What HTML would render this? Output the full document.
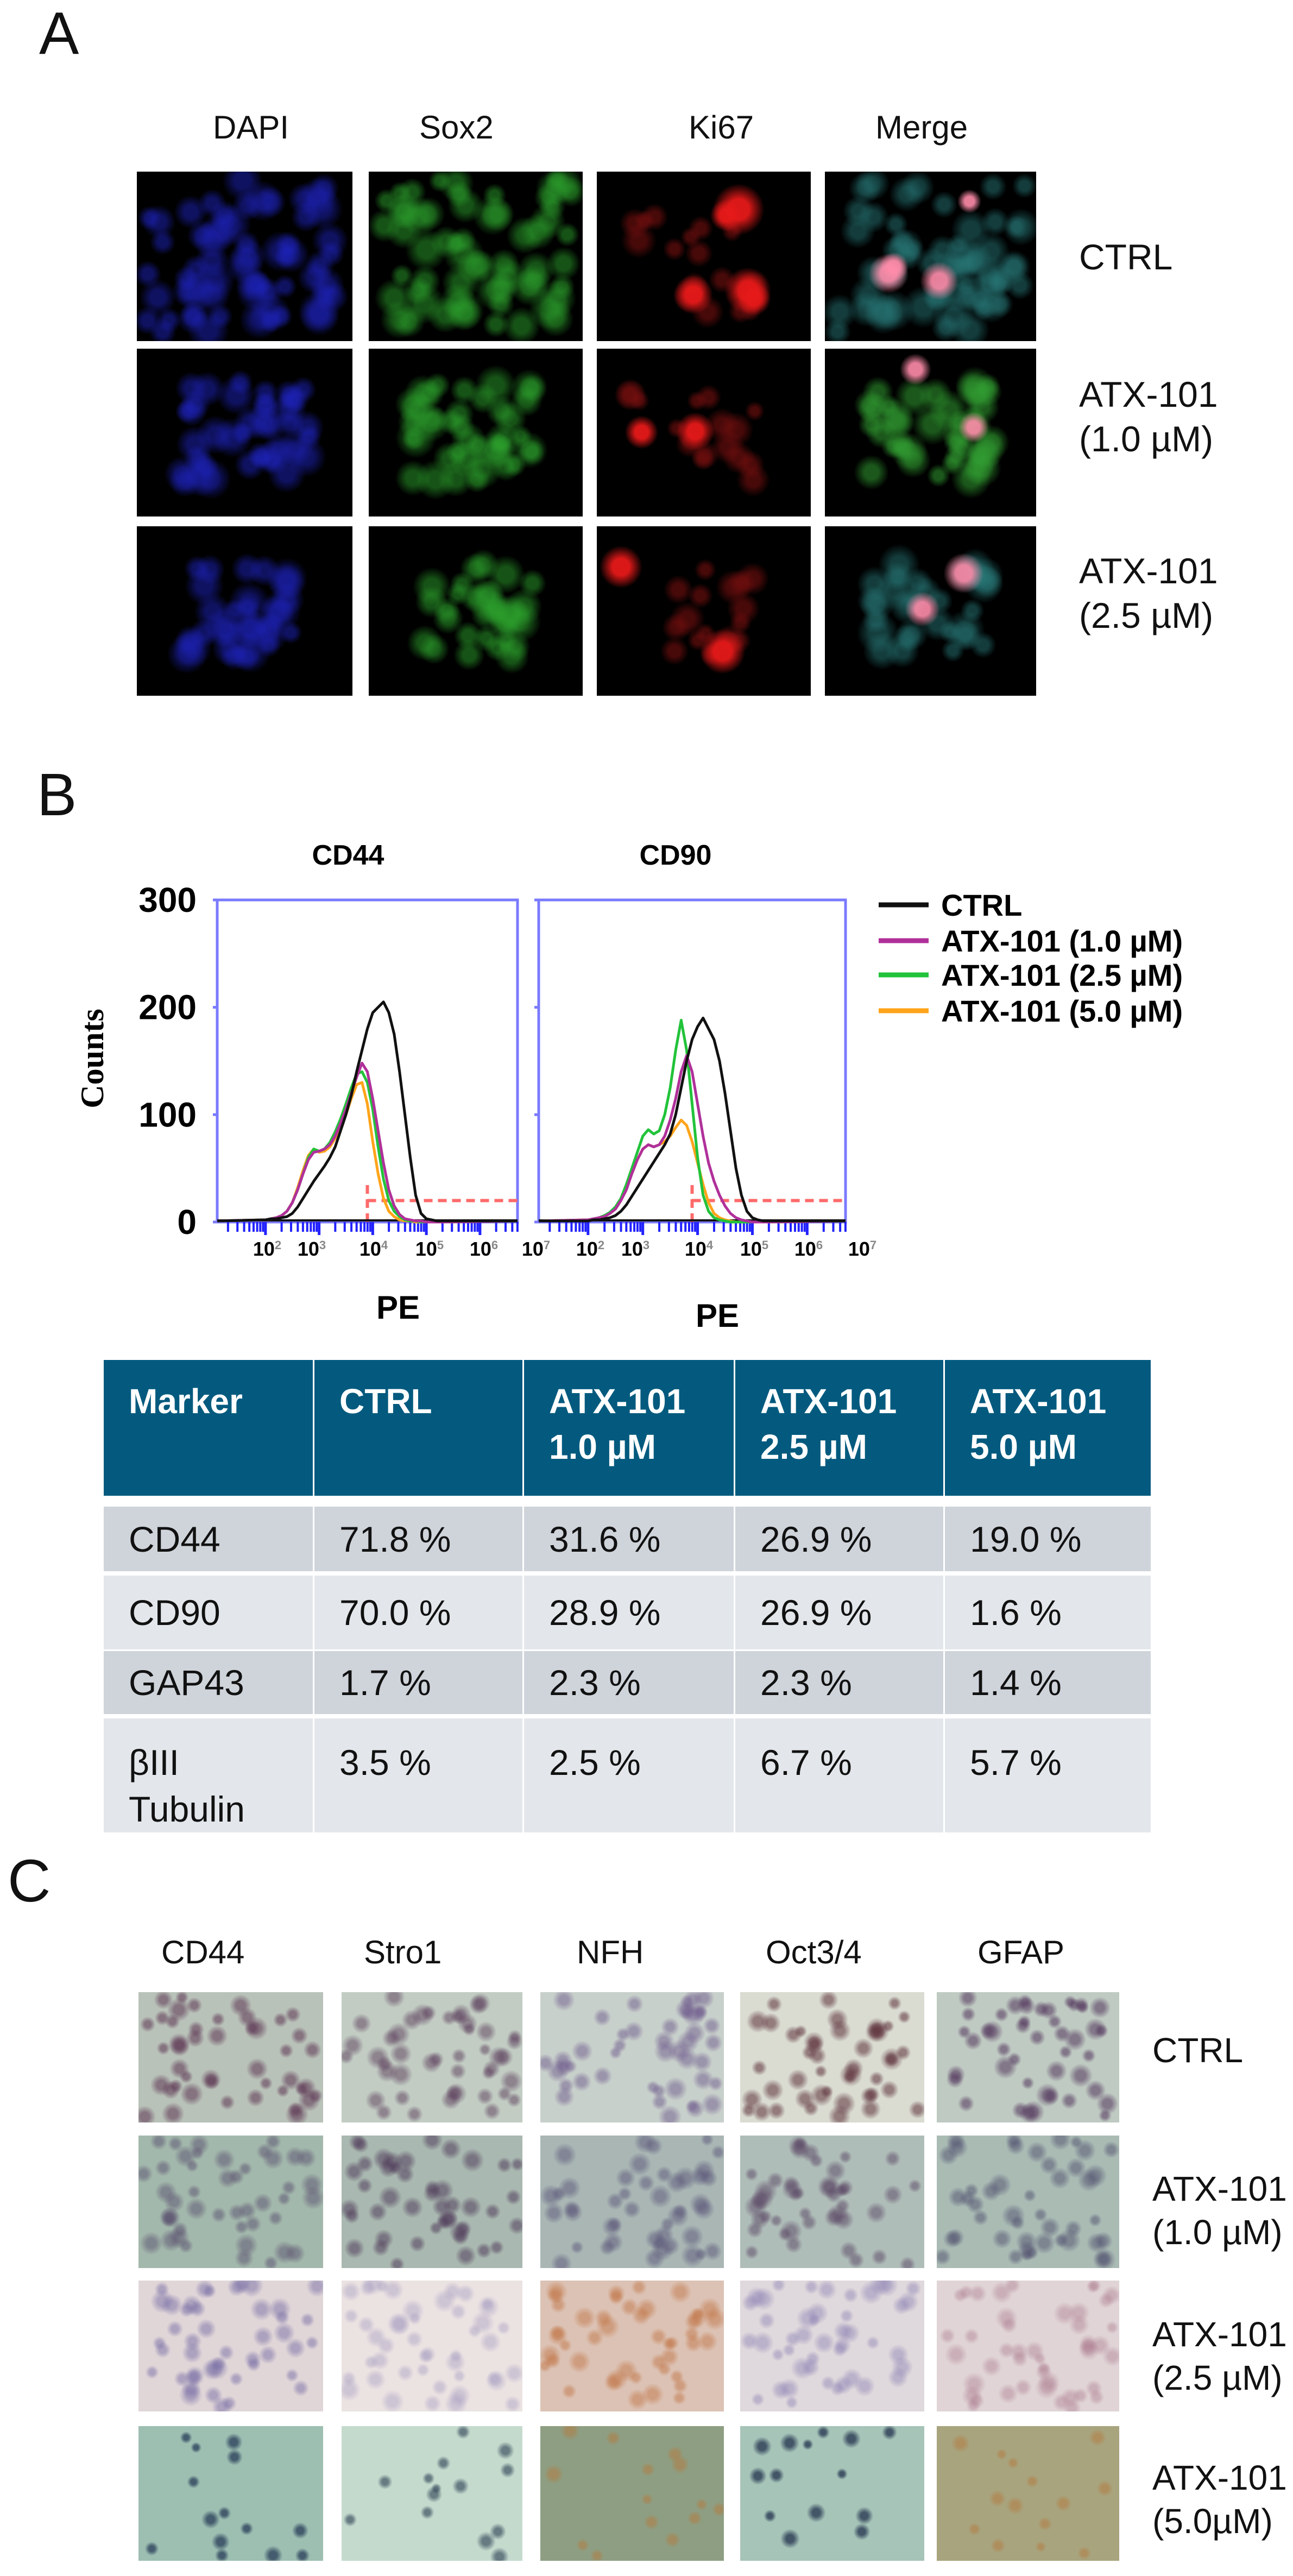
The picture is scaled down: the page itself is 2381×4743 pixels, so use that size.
<!DOCTYPE html>
<html><head><meta charset="utf-8">
<style>
html,body{margin:0;padding:0;background:#fff;}
body{width:2381px;height:4743px;position:relative;overflow:hidden;font-family:"Liberation Sans",Arial,sans-serif;}
.abs{position:absolute;}
.lbl{position:absolute;font-size:60px;color:#111;white-space:nowrap;font-family:"Liberation Sans Narrow","Liberation Sans",Arial,sans-serif;}
.panel{position:absolute;font-size:110px;color:#111;}
.img{position:absolute;overflow:hidden;}
.cell{position:absolute;box-sizing:border-box;padding-left:46px;white-space:nowrap;font-family:"Liberation Sans Narrow","Liberation Sans",Arial,sans-serif;}
</style></head>
<body>
<div class="panel" style="left:72px;top:-2px;">A</div>
<div class="panel" style="left:68px;top:1400px;">B</div>
<div class="panel" style="left:14px;top:3400px;">C</div>

<!-- Panel A -->
<div class="lbl" style="left:392px;top:200px;">DAPI</div>
<div class="lbl" style="left:772px;top:200px;">Sox2</div>
<div class="lbl" style="left:1268px;top:200px;">Ki67</div>
<div class="lbl" style="left:1612px;top:200px;">Merge</div>
<div class="lbl" style="left:1987px;top:435px;font-size:66px;">CTRL</div>
<div class="lbl" style="left:1987px;top:685px;font-size:66px;line-height:82px;">ATX-101<br>(1.0 µM)</div>
<div class="lbl" style="left:1987px;top:1010px;font-size:66px;line-height:82px;">ATX-101<br>(2.5 µM)</div>
<div id="gridA"></div>

<!-- Panel B chart -->
<svg id="chart" class="abs" style="left:0;top:0" width="2381" height="2500" viewBox="0 0 2381 2500"></svg>

<!-- Table -->
<div id="table" class="abs" style="left:0;top:0;"></div>

<!-- Panel C -->
<div class="lbl" style="left:297px;top:3560px;">CD44</div>
<div class="lbl" style="left:670px;top:3560px;">Stro1</div>
<div class="lbl" style="left:1062px;top:3560px;">NFH</div>
<div class="lbl" style="left:1410px;top:3560px;">Oct3/4</div>
<div class="lbl" style="left:1800px;top:3560px;">GFAP</div>
<div class="lbl" style="left:2122px;top:3738px;font-size:64px;">CTRL</div>
<div class="lbl" style="left:2122px;top:3990px;font-size:64px;line-height:80px;">ATX-101<br>(1.0 µM)</div>
<div class="lbl" style="left:2122px;top:4258px;font-size:64px;line-height:80px;">ATX-101<br>(2.5 µM)</div>
<div class="lbl" style="left:2122px;top:4522px;font-size:64px;line-height:80px;">ATX-101<br>(5.0µM)</div>
<div id="gridC"></div>

<script>
// ---------- Flow histogram data (log10 PE bins from 2.0 step 0.1) ----------
const binStart = 2.0, binStep = 0.1;
const cd44Ctrl = [2,3,3,4,5,8,14,22,30,38,45,52,60,70,85,100,118,140,160,180,195,200,205,195,175,140,100,60,25,8,3,2,1,1];
const cd44Atx1 = [2,3,4,6,10,18,30,45,58,65,66,68,72,80,92,105,120,135,148,140,115,85,55,30,15,7,3,2,1,1,0,0,0,0];
const cd44Atx25 = [2,3,4,6,10,18,30,45,60,68,66,68,74,84,96,110,125,138,140,130,105,70,40,20,10,5,2,1,1,0,0,0,0,0];
const cd44Atx5 = [2,3,4,6,10,18,32,48,62,68,65,66,70,78,88,100,115,128,130,110,75,45,22,10,5,2,1,1,0,0,0,0,0,0];
const cd90Ctrl = [1,2,2,3,4,6,10,16,24,32,40,48,56,64,72,82,100,125,150,170,182,190,180,170,150,120,85,50,25,10,4,2,1,1];
const cd90Atx1 = [2,3,4,5,8,12,20,30,45,58,68,72,70,72,80,95,115,140,155,140,110,80,55,38,25,15,8,4,2,1,0,0,0,0];
const cd90Atx25 = [2,3,4,6,9,14,22,35,50,65,80,86,82,85,100,125,160,188,160,110,60,25,10,4,2,1,0,0,0,0,0,0,0,0];
const cd90Atx5 = [2,3,4,5,8,12,20,32,45,58,68,72,70,72,75,80,88,95,90,75,55,35,18,8,4,2,1,0,0,0,0,0,0,0];
const yTicks = [0,100,200,300];
const xTickExp = [2,3,4,5,6,7];
const seriesNames = ["CTRL","ATX-101 (1.0 µM)","ATX-101 (2.5 µM)","ATX-101 (5.0 µM)"];
const seriesColors = ["#111111","#b0309a","#22c33a","#ffa41a"];
const gateLog = 3.9, gateCount = 20;

// ---------- Table data ----------
const headers = ["Marker","CTRL","ATX-101<br>1.0 µM","ATX-101<br>2.5 µM","ATX-101<br>5.0 µM"];
const markers = ["CD44","CD90","GAP43","βIII<br>Tubulin"];
const ctrlVals = ["71.8 %","70.0 %","1.7 %","3.5 %"];
const atx1Vals = ["31.6 %","28.9 %","2.3 %","2.5 %"];
const atx25Vals = ["26.9 %","26.9 %","2.3 %","6.7 %"];
const atx5Vals = ["19.0 %","1.6 %","1.4 %","5.7 %"];

const NS="http://www.w3.org/2000/svg";
const svg=document.getElementById('chart');
function mk(tag,attrs,parent){const e=document.createElementNS(NS,tag);for(const k in attrs)e.setAttribute(k,attrs[k]);(parent||svg).appendChild(e);return e;}
const NARROW='Liberation Sans Narrow, Liberation Sans, sans-serif';

const yTop=1657,yBot=2250;
function yS(v){return yBot-v*(yBot-yTop)/300;}
const plots=[
 {x0:400,x1:953,title:"CD44",tx:641,series:[cd44Ctrl,cd44Atx1,cd44Atx25,cd44Atx5],lab:[492,574,688,791,891,987],pe:[733,2403]},
 {x0:992,x1:1557,title:"CD90",tx:1244,series:[cd90Ctrl,cd90Atx1,cd90Atx25,cd90Atx5],lab:[1087,1170,1287,1389,1489,1588],pe:[1321,2418]}
];
plots.forEach((p,pi)=>{
  function xS(l){return p.x0+(l-1.1)*(p.x1-p.x0)/(6.7-1.1);}
  const g=mk('g',{});
  
  
  const t=mk('text',{x:p.tx,y:1592,'text-anchor':'middle','font-size':52,'font-weight':'bold','font-family':NARROW},g);
  t.textContent=p.title;
  
  
  const fr=mk('rect',{x:p.x0,y:yTop,width:p.x1-p.x0,height:yBot-yTop,fill:'none',stroke:'#7a7aff','stroke-width':5},g);
  
  
  yTicks.forEach(v=>{
    const tk=mk('line',{x1:p.x0-8,x2:p.x0,y1:yS(v),y2:yS(v),stroke:'#7a7aff','stroke-width':5},g);
    
    
    if(pi===0){
      const tl=mk('text',{x:362,y:yS(v)+22,'text-anchor':'end','font-size':64,'font-weight':'bold','font-family':NARROW},g);
      tl.textContent=v;
      
      
    }
  });
  for(let d=1;d<7;d++){for(let m=1;m<10;m++){const l=d+Math.log10(m);if(l<1.1||l>6.7)continue;
    const ln=mk('line',{x1:xS(l),x2:xS(l),y1:yBot,y2:yBot+(m===1?24:18),stroke:'#2222ff','stroke-width':m===1?5:4},g);
    
    }}
  xTickExp.forEach((e,i)=>{
    const tl=mk('text',{x:p.lab[i],y:2312,'text-anchor':'middle','font-size':36,'font-weight':'bold','font-family':NARROW},g);
    tl.innerHTML='10<tspan dy="-12" font-size="22" fill="#888">'+e+'</tspan>';
    
    
  });
  const pe=mk('text',{x:p.pe[0],y:p.pe[1]+25,'text-anchor':'middle','font-size':60,'font-weight':'bold','font-family':NARROW},g);
  pe.textContent='PE';
  
  
  const gate=mk('path',{d:`M${xS(gateLog)},${yS(0)} L${xS(gateLog)},${yS(gateCount+15)} M${xS(gateLog)},${yS(gateCount)} L${p.x1},${yS(gateCount)}`,fill:'none',stroke:'#ff6a6a','stroke-width':6,'stroke-dasharray':'16,10'},g);
  
  
  const bl=mk('line',{x1:p.x0,x2:p.x1,y1:yBot-3,y2:yBot-3,stroke:'#111','stroke-width':4},g);
  
  
  [3,2,1,0].forEach(si=>{
    const arr=p.series[si];
    let d=`M${xS(1.1)},${yS(1)} L${xS(binStart)},${yS(arr[0])}`;
    arr.forEach((v,i)=>{d+=` L${xS(binStart+i*binStep)},${yS(v)}`;});
    d+=` L${p.x1},${yS(1)}`;
    const path=mk('path',{d:d,fill:'none',stroke:seriesColors[si],'stroke-width':5,'stroke-linejoin':'round'},g);
    
    
  });
});
const yt=mk('text',{x:0,y:0,transform:'translate(190,1949) rotate(-90)','text-anchor':'middle','font-size':60,'font-weight':'bold','font-family':'Liberation Serif, serif'});
yt.textContent='Counts';


const legY=[1666,1732,1795,1861];
seriesNames.forEach((n,i)=>{
  const g=mk('g',{});
  
  
  mk('line',{x1:1618,x2:1710,y1:legY[i],y2:legY[i],stroke:seriesColors[i],'stroke-width':9},g);
  const t=mk('text',{x:1733,y:legY[i]+20,'font-size':56,'font-weight':'bold','font-family':NARROW},g);
  t.textContent=n;
});

// ---------- Table (absolute cells) ----------
const tbl=document.getElementById('table');
const colEdges=[191,576,962,1351,1737,2119];
const rowTops=[2774,2901,3040,3164], rowBots=[2893,3037,3156,3374];
function cell(x0,x1,y0,y1,bg,html,style,name){
  const d=document.createElement('div');d.className='cell';
  
  
  d.style.cssText+=`left:${x0}px;top:${y0}px;width:${x1-x0}px;height:${y1-y0}px;background:${bg};`+style;
  d.innerHTML=html;tbl.appendChild(d);
}
headers.forEach((h,j)=>{
  cell(colEdges[j]+(j?3:0),colEdges[j+1],2504,2754,'#035a7e',h,'color:#fff;font-weight:bold;font-size:64px;line-height:84px;padding-top:34px;','table-header-cell');
});
const cols=[markers,ctrlVals,atx1Vals,atx25Vals,atx5Vals];
for(let i=0;i<4;i++){
  cols.forEach((c,j)=>{
    const h=rowBots[i]-rowTops[i];
    cell(colEdges[j]+(j?3:0),colEdges[j+1],rowTops[i],rowBots[i],i%2===0?'#cfd4db':'#e3e7eb',c[i],
      'color:#111;font-size:66px;line-height:86px;'+(i===3?'padding-top:38px;':'padding-top:'+((h-86)/2)+'px;'),'table-cell');
  });
}

// ---------- image tiles (texture) ----------
let seed=7;function rnd(){seed=(seed*16807)%2147483647;return seed/2147483647;}
function tile(parent,x,y,w,h,bg,blobs,name){
  const d=document.createElement('div');d.className='img';
  
  
  d.style.cssText+=`left:${x}px;top:${y}px;width:${w}px;height:${h}px;background:${bg};`;
  let grads=[];
  blobs.forEach(b=>{for(let k=0;k<b.n;k++){
    const cx=(b.cx+(rnd()-0.5)*b.spread)*100, cy=(b.cy+(rnd()-0.5)*b.spread)*100;
    const r=b.r*(0.7+rnd()*0.6);
    grads.push(`radial-gradient(circle ${r}px at ${cx.toFixed(1)}% ${cy.toFixed(1)}%, ${b.c} 0%, ${b.c} 40%, transparent 100%)`);
  }});
  if(grads.length)d.style.backgroundImage=grads.join(',');
  parent.appendChild(d);
}
const gA=document.getElementById('gridA');
const colXA=[252,679,1099,1519],colWA=[397,394,394,389];
const rowYA=[316,642,969],rowHA=[312,309,312];
const aSpread=[0.9,0.6,0.55];const aN=[60,40,30];
for(let r=0;r<3;r++)for(let c=0;c<4;c++){
  const blobs=[];
  if(c===2){blobs.push({n:r===0?5:2,cx:0.45,cy:0.5,spread:0.7,r:38,c:'rgba(230,25,25,0.95)'});blobs.push({n:16,cx:0.45,cy:0.55,spread:0.6,r:26,c:'rgba(120,15,15,0.6)'});}
  else if(c===3){blobs.push({n:r===0?4:2,cx:0.6,cy:0.4,spread:0.6,r:30,c:'rgba(255,140,170,0.9)'});blobs.push({n:aN[r],cx:0.5,cy:0.5,spread:aSpread[r],r:30,c:r===1?'rgba(50,160,50,0.55)':'rgba(40,120,120,0.5)'});}
  else blobs.push({n:aN[r],cx:0.5,cy:0.5,spread:aSpread[r],r:30,c:c===0?'rgba(30,35,190,0.5)':'rgba(45,165,45,0.5)'});
  tile(gA,colXA[c],rowYA[r],colWA[c],rowHA[r],'#000',blobs,'micrograph-a-r'+(r+1)+'-c'+(c+1));
}
const gC=document.getElementById('gridC');
const colXC=[255,629,995,1363,1725],colWC=[340,333,338,339,336];
const rowYC=[3668,3932,4199,4467],rowHC=[240,244,241,248];
const cBg=[['#b9c2b9','#c2ccc3','#c8d0cb','#dadcd2','#bfcac2'],['#a3b8ac','#a9b8b0','#a9b6b4','#afbdb8','#aabbb4'],['#e0d6d8','#ebe3e2','#dcc2b4','#dfd8dc','#e0d4d6'],['#9dbfb2','#c4dacd','#8e9e82','#a6c4b8','#a8a47e']];
const cCell=[['rgba(90,50,80,0.55)','rgba(90,60,90,0.5)','rgba(110,90,140,0.5)','rgba(90,45,55,0.55)','rgba(80,50,90,0.55)'],['rgba(90,80,110,0.5)','rgba(80,60,90,0.55)','rgba(90,85,120,0.5)','rgba(90,70,100,0.5)','rgba(80,80,110,0.5)'],['rgba(110,100,160,0.45)','rgba(160,150,190,0.4)','rgba(190,110,60,0.45)','rgba(140,130,180,0.45)','rgba(170,120,140,0.4)'],['rgba(30,50,80,0.7)','rgba(40,60,80,0.6)','rgba(180,120,60,0.5)','rgba(25,40,70,0.7)','rgba(180,120,60,0.5)']];
for(let r=0;r<4;r++)for(let c=0;c<5;c++){
  tile(gC,colXC[c],rowYC[r],colWC[c],rowHC[r],cBg[r][c],[{n:r===3?14:45,cx:0.5,cy:0.5,spread:0.95,r:r===3?14:17,c:cCell[r][c]}],'ihc-image-r'+(r+1)+'-c'+(c+1));
}
</script>
</body></html>
